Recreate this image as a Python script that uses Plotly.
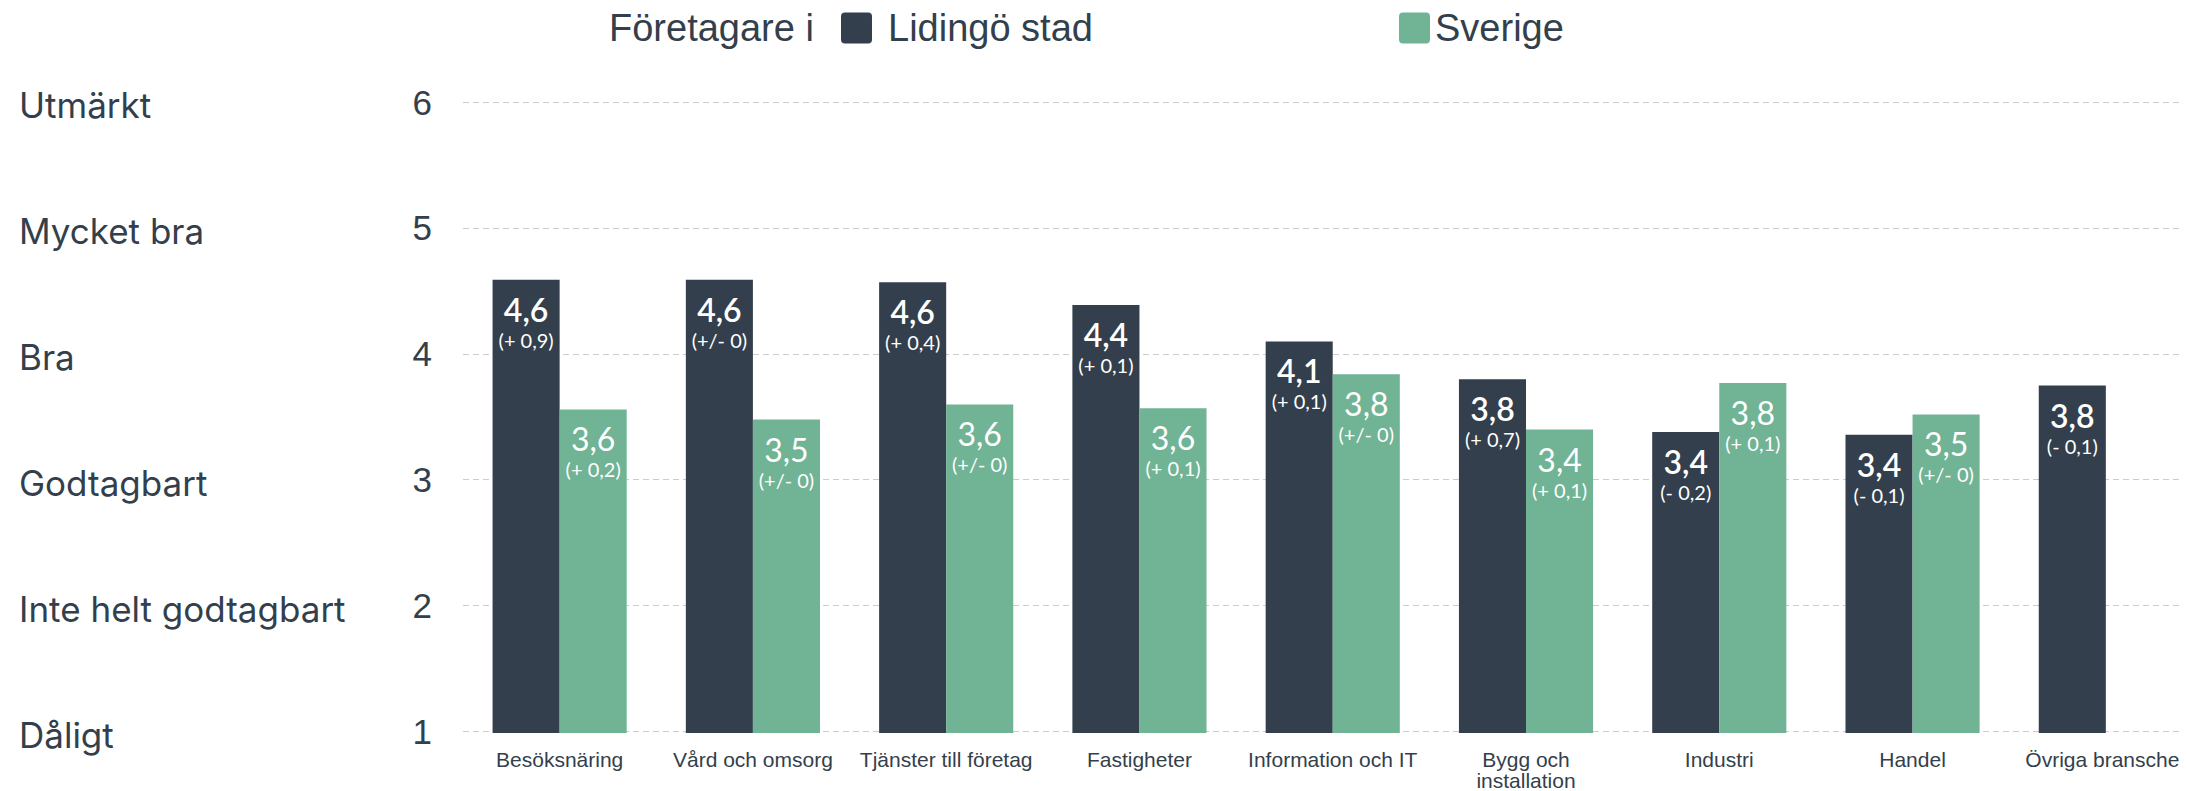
import plotly.graph_objects as go

# ---- data ----
categories = ["Besöksnäring", "Vård och omsorg", "Tjänster till företag", "Fastigheter",
              "Information och IT", "Bygg och installation", "Industri", "Handel",
              "Övriga branscher"]
category_ticks = ["Besöksnäring", "Vård och omsorg", "Tjänster till företag", "Fastigheter",
                  "Information och IT", "Bygg och<br>installation", "Industri", "Handel",
                  "Övriga branscher"]
lidingo = [4.59, 4.59, 4.57, 4.39, 4.10, 3.80, 3.38, 3.36, 3.75]
sverige = [3.56, 3.48, 3.60, 3.57, 3.84, 3.40, 3.77, 3.52, None]
lidingo_labels = ["4,6", "4,6", "4,6", "4,4", "4,1", "3,8", "3,4", "3,4", "3,8"]
lidingo_change = ["(+ 0,9)", "(+/- 0)", "(+ 0,4)", "(+ 0,1)", "(+ 0,1)", "(+ 0,7)",
                  "(- 0,2)", "(- 0,1)", "(- 0,1)"]
sverige_labels = ["3,6", "3,5", "3,6", "3,6", "3,8", "3,4", "3,8", "3,5", ""]
sverige_change = ["(+ 0,2)", "(+/- 0)", "(+/- 0)", "(+ 0,1)", "(+/- 0)", "(+ 0,1)",
                  "(+ 0,1)", "(+/- 0)", ""]
scale_values = [1, 2, 3, 4, 5, 6]
scale_names = ["Dåligt", "Inte helt godtagbart", "Godtagbart", "Bra", "Mycket bra", "Utmärkt"]
legend_title = "Företagare i"
series_names = ["Lidingö stad", "Sverige"]

# ---- style ----
DARK = "#333f4c"
GREEN = "#70b395"
TEXT = "#333f4c"
BODY = 8                      # default page margin of the html body
W, H = 2187 - BODY, 791 - BODY
ML, MR, MT, MB = 455, 0, 93, 58
PW = W - ML - MR
PH = H - MT - MB


def px_x(sx):
    """screen x -> paper x"""
    return (sx - BODY - ML) / PW


def px_y(sy):
    """screen y -> paper y"""
    return (H - MB - (sy - BODY)) / PH


PAD = "<span style='font-size:40px'>&nbsp;</span>"


def make_text(vals, chg, weight):
    out = []
    for v, c in zip(vals, chg):
        if not v:
            out.append("")
        else:
            out.append(f"{PAD}<span style='font-size:32px;font-weight:{weight}'>{v}</span>{PAD}"
                       f"<br>{c}")
    return out


def tick_text(label):
    return "<br>".join(f"<span style='font-size:21px'>{part}</span>"
                       for part in label.split("<br>"))


BAR_FONT = dict(family="Lato, Open Sans, sans-serif", size=20, color="white")

fig = go.Figure()
fig.add_trace(go.Bar(
    x=categories, y=lidingo, name=series_names[0],
    marker=dict(color=DARK, line=dict(width=0)),
    text=make_text(lidingo_labels, lidingo_change, 600),
    textposition="inside", insidetextanchor="end", textangle=0,
    constraintext="none", textfont=BAR_FONT, hoverinfo="skip",
))
fig.add_trace(go.Bar(
    x=categories, y=sverige, name=series_names[1],
    marker=dict(color=GREEN, line=dict(width=0)),
    text=make_text(sverige_labels, sverige_change, 400),
    textposition="inside", insidetextanchor="end", textangle=0,
    constraintext="none", textfont=BAR_FONT, hoverinfo="skip",
))

# left-hand scale names aligned to the y ticks
for v, name in zip(scale_values, scale_names):
    fig.add_annotation(
        x=px_x(17), xref="paper", xanchor="left",
        y=v, yref="y", yanchor="middle", yshift=-3,
        text=name, showarrow=False,
        font=dict(family="Inter, Lato, sans-serif", size=35, color=TEXT),
    )

# manual legend (large rounded swatches)
leg_y = px_y(28)
LEG_FONT = dict(family="Liberation Sans, Arial, sans-serif", size=38, color=TEXT)
fig.add_annotation(x=px_x(607), xref="paper", xanchor="left",
                   y=leg_y, yref="paper", yanchor="middle",
                   text=legend_title, showarrow=False, font=LEG_FONT)
swatch = ("M4,-15.5 H27 Q31,-15.5 31,-11.5 V11.5 Q31,15.5 27,15.5 H4 "
          "Q0,15.5 0,11.5 V-11.5 Q0,-15.5 4,-15.5 Z")
for sx, tx, col, name in [(841, 886, DARK, series_names[0]), (1399, 1433, GREEN, series_names[1])]:
    fig.add_shape(type="path", path=swatch,
                  xref="paper", xsizemode="pixel", xanchor=px_x(sx),
                  yref="paper", ysizemode="pixel", yanchor=leg_y,
                  fillcolor=col, line=dict(width=0))
    fig.add_annotation(x=px_x(tx), xref="paper", xanchor="left",
                       y=leg_y, yref="paper", yanchor="middle",
                       text=name, showarrow=False, font=LEG_FONT)

fig.update_layout(
    width=W, height=H,
    margin=dict(l=ML, r=MR, t=MT, b=MB, pad=0, autoexpand=False),
    paper_bgcolor="white", plot_bgcolor="white",
    barmode="group", bargap=0.306, bargroupgap=0,
    showlegend=False,
    xaxis=dict(
        range=[-0.5, 8.42], showgrid=False, zeroline=False, showline=False,
        tickmode="array", tickvals=categories,
        ticktext=[tick_text(t) for t in category_ticks],
        ticks="", tickangle=0, ticklabelstandoff=17, automargin=False,
        tickfont=dict(family="Liberation Sans, Arial, sans-serif", size=16, color=TEXT),
    ),
    yaxis=dict(
        range=[0.99, 6.01], tickvals=scale_values, ticktext=[str(v) for v in scale_values],
        showgrid=True, gridcolor="#cccccc", gridwidth=1, griddash="6px,4px",
        zeroline=False, showline=False, ticks="", ticklabelstandoff=30, automargin=False,
        tickfont=dict(family="Liberation Sans, Arial, sans-serif", size=35, color=TEXT),
    ),
)

fig.write_html("out.html")
